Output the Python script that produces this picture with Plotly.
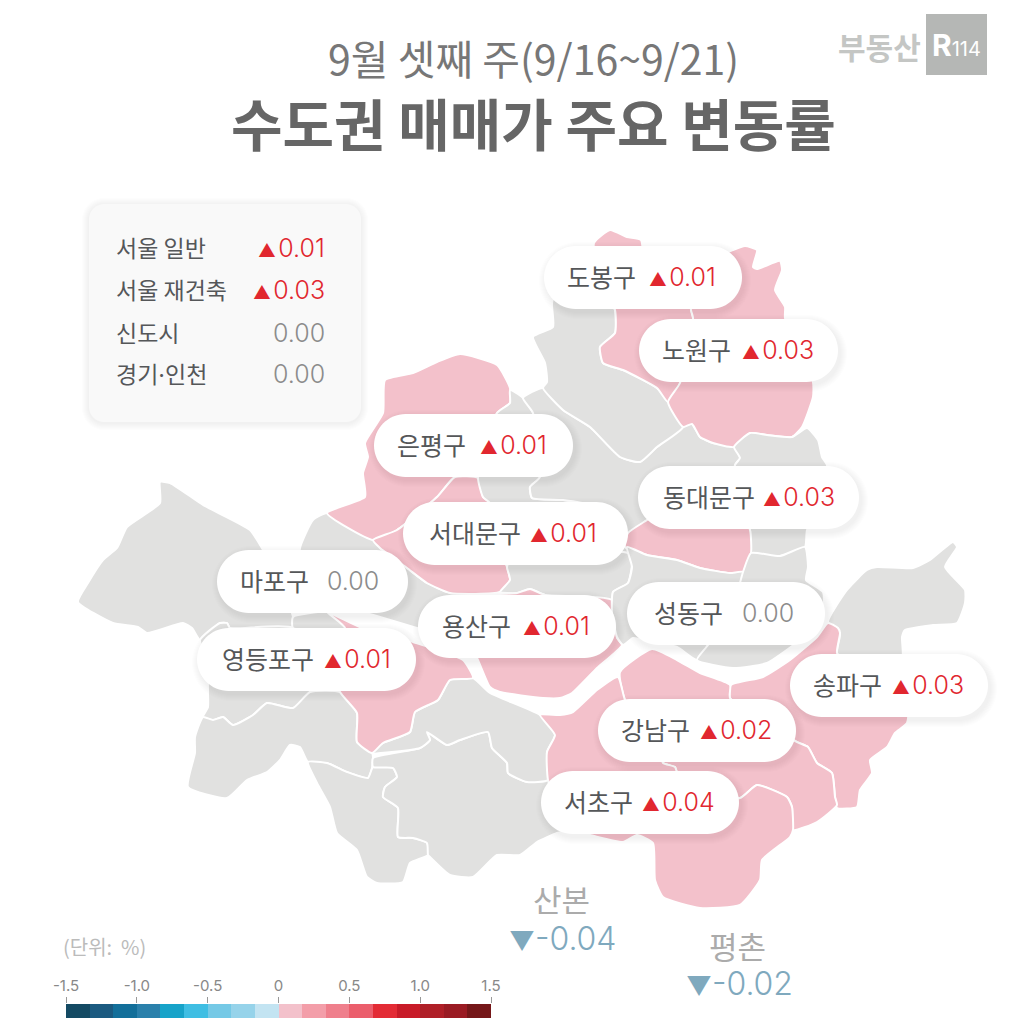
import plotly.graph_objects as go

# ---------- data ----------
SUBTITLE = "9월 셋째 주(9/16~9/21)"
TITLE = "수도권 매매가 주요 변동률"
SUMMARY_NAMES = ["서울 일반", "서울 재건축", "신도시", '경기<span style="font-family:Inter">·</span>인천']
SUMMARY_VALUES = [0.01, 0.03, 0.00, 0.00]
LABEL_NAMES = ["도봉구", "노원구", "은평구", "동대문구", "서대문구", "마포구",
               "성동구", "용산구", "영등포구", "송파구", "강남구", "서초구"]
LABEL_VALUES = [0.01, 0.03, 0.01, 0.03, 0.01, 0.00, 0.00, 0.01, 0.01, 0.03, 0.02, 0.04]
EXTRA_NAMES = ["산본", "평촌"]
EXTRA_VALUES = [-0.04, -0.02]
SCALE_TICKS = [-1.5, -1.0, -0.5, 0, 0.5, 1.0, 1.5]
SCALE_TICK_TEXT = ["-1.5", "-1.0", "-0.5", "0", "0.5", "1.0", "1.5"]
SCALE_COLORS = ["#144A63", "#1B5A80", "#136F9A", "#2A80AB", "#17A3C9", "#3FBEE3",
                "#75C9E6", "#96D3EA", "#C3E4F2", "#F3C1CB", "#F39EA9", "#EF7F8C",
                "#EB5E6C", "#E32B35", "#C81B28", "#AF1F27", "#9A1B23", "#751719"]

# district outlines, as traced on the reference map
gangseo = [(160,482),(170,483),(203,505),(250,530),(263,550),(280,580),(293,617),(293,628),(230,628),(227,623),(220,623),(200,640),(192,628),(183,623),(147,633),(138,627),(113,623),(78,602),(88,583),(103,560),(117,548),(127,527),(160,503)]
yangcheon = [(200,640),(220,623),(227,623),(230,628),(293,628),(310,692),(293,708),(267,703),(253,715),(233,725),(223,717),(213,720),(203,717),(208,707),(208,693),(207,660)]
yeouido = [(293,617),(327,612),(362,628),(293,628)]
guro = [(203,717),(213,720),(223,717),(233,725),(253,715),(267,703),(293,708),(310,692),(340,692),(357,713),(357,742),(372,753),(373,757),(372,768),(368,778),(347,772),(327,763),(308,762),(300,747),(290,745),(280,760),(267,772),(247,780),(227,798),(188,787),(195,753),(195,737)]
geumcheon = [(308,762),(327,763),(347,772),(368,778),(373,767),(393,768),(397,777),(385,787),(383,797),(398,808),(398,837),(413,838),(427,843),(428,855),(410,863),(403,882),(377,883),(367,877),(357,850),(337,833),(330,807),(317,783)]
gwanak = [(373,758),(420,748),(430,740),(427,732),(447,745),(460,740),(488,732),(492,748),(507,763),(508,773),(527,782),(548,780),(567,830),(557,833),(537,842),(520,855),(497,855),(473,877),(450,875),(430,857),(428,855),(427,843),(413,838),(398,837),(398,808),(383,797),(385,787),(397,777),(393,768),(373,767)]
dongjak = [(372,753),(383,743),(410,732),(415,712),(438,700),(450,680),(473,678),(490,693),(540,715),(555,735),(547,752),(548,780),(527,782),(508,773),(507,763),(492,748),(488,732),(460,740),(447,745),(427,732),(430,740),(420,748)]
yeongdeungpo = [(327,612),(362,628),(413,642),(463,660),(473,678),(450,680),(438,700),(415,712),(410,732),(383,743),(372,753),(357,742),(357,713),(340,692),(330,650),(345,628)]
mapo = [(327,513),(373,540),(380,548),(407,568),(427,583),(450,593),(500,592),(517,593),(465,640),(430,632),(417,628),(362,612),(300,600),(300,548),(313,520)]
eunpyeong = [(510,388),(497,365),(460,354),(437,362),(413,373),(385,380),(383,413),(365,443),(368,457),(363,473),(365,497),(327,513),(373,540),(397,530),(437,497),(455,477),(478,478),(497,413),(510,403)]
seodaemun = [(373,540),(397,530),(437,497),(455,477),(478,478),(483,497),(490,503),(500,540),(507,567),(510,580),(500,592),(450,593),(427,583),(407,568),(380,548)]
jongno = [(510,390),(522,397),(533,413),(540,477),(530,487),(532,498),(563,500),(590,505),(628,533),(628,553),(510,560),(507,567),(490,503),(483,497),(478,478),(497,413),(510,403)]
seongbuk = [(523,398),(543,388),(563,410),(590,427),(620,457),(640,462),(657,447),(683,427),(692,424),(700,437),(713,443),(734,447),(740,458),(735,465),(735,500),(660,510),(647,520),(628,533),(590,505),(563,500),(532,498),(530,487),(540,477),(533,413)]
gangbuk = [(552,303),(553,327),(533,337),(545,363),(547,382),(543,388),(563,410),(590,427),(620,457),(640,462),(657,447),(683,427),(668,402),(657,388),(623,370),(603,363),(600,347),(615,333),(615,310),(600,280),(560,280)]
dobong = [(594,243),(610,230),(627,237),(641,240),(645,260),(691,270),(691,310),(693,318),(680,383),(668,402),(657,388),(623,370),(603,363),(600,347),(615,333),(615,310),(600,280)]
nowon = [(733,250),(745,246),(757,250),(753,267),(757,269),(780,261),(782,270),(775,290),(785,307),(785,318),(813,382),(813,397),(802,427),(792,437),(767,435),(750,433),(734,447),(713,443),(700,437),(692,424),(683,427),(668,402),(680,383),(693,318),(691,310),(691,270)]
jungnang = [(734,447),(750,433),(767,435),(792,437),(807,428),(818,440),(822,457),(827,465),(820,510),(807,530),(805,547),(780,556),(751,553),(750,530),(735,500),(735,465),(740,458)]
dongdaemun = [(628,533),(647,520),(660,510),(735,500),(750,530),(751,553),(743,572),(730,573),(700,568),(677,560),(647,555),(625,547)]
jung = [(510,560),(628,553),(632,563),(628,583),(613,592),(612,600),(545,595),(530,589),(517,593),(500,592),(510,580),(507,567)]
yongsan = [(517,593),(530,589),(545,595),(612,600),(617,638),(622,645),(597,668),(572,693),(560,698),(543,698),(500,692),(490,687),(477,658),(465,640),(440,600)]
seongdong = [(627,547),(647,555),(677,560),(700,568),(730,573),(743,572),(735,600),(708,645),(697,660),(677,647),(645,640),(633,638),(623,645),(617,637),(612,613),(613,592),(628,583),(632,567)]
gwangjin = [(751,553),(780,556),(805,547),(808,567),(806,580),(823,592),(822,620),(800,640),(767,663),(733,668),(697,660),(708,645),(735,600),(743,572)]
gangdong = [(867,570),(877,567),(913,568),(930,560),(953,542),(957,547),(945,567),(965,590),(965,603),(957,623),(933,625),(905,630),(902,637),(902,660),(850,665),(837,653),(840,633),(828,622),(847,590)]
songpa = [(828,623),(838,628),(840,633),(837,653),(850,665),(907,690),(907,723),(895,733),(887,747),(870,760),(872,773),(860,790),(857,807),(837,808),(835,797),(832,773),(817,763),(808,747),(797,742),(730,698),(731,685),(763,677),(790,660),(817,637)]
gangnam = [(620,672),(652,649),(677,660),(700,673),(730,685),(730,698),(797,742),(808,747),(817,763),(832,773),(835,797),(837,805),(817,822),(793,830),(792,807),(787,797),(757,785),(740,798),(700,790),(677,772),(675,767),(663,763),(660,755),(625,700)]
seocho = [(540,715),(560,715),(573,712),(597,690),(618,677),(625,700),(660,755),(663,763),(675,767),(677,772),(700,790),(740,798),(757,785),(787,797),(792,807),(793,830),(790,837),(762,860),(760,880),(740,905),(700,908),(663,897),(655,880),(653,843),(637,835),(623,842),(590,835),(567,830),(548,780),(547,752),(555,735)]

DISTRICTS = [
    ("강서구", gangseo, None), ("양천구", yangcheon, None), ("여의도", yeouido, None),
    ("구로구", guro, None), ("금천구", geumcheon, None), ("관악구", gwanak, None),
    ("동작구", dongjak, None), ("영등포구", yeongdeungpo, 0.01), ("마포구", mapo, 0.00),
    ("은평구", eunpyeong, 0.01), ("서대문구", seodaemun, 0.01), ("종로구", jongno, None),
    ("성북구", seongbuk, None), ("강북구", gangbuk, None), ("도봉구", dobong, 0.01),
    ("노원구", nowon, 0.03), ("중랑구", jungnang, None), ("동대문구", dongdaemun, 0.03),
    ("중구", jung, None), ("용산구", yongsan, 0.01), ("성동구", seongdong, 0.00),
    ("광진구", gwangjin, None), ("강동구", gangdong, None), ("송파구", songpa, 0.03),
    ("강남구", gangnam, 0.02), ("서초구", seocho, 0.04),
]

# ---------- layout and style ----------
W, H = 1018, 1033
KR = "'Noto Sans CJK KR'"
NUM = "Inter, 'Noto Sans CJK KR'"
GRAY_FILL = "#E1E1E0"
RED = "#E1272F"
ZERO = "#8C8C8C"
BLUE = "#7FA9BE"
DARK = "#555759"
# pill: x0, x1, y0, name x, value right x
PILLS = [(544,742,246,565,718),(639,838,319,660,816),(374,573,414,395,549),
         (638,859,466,661,837),(403,628,502,427,599),(217,408,550,238,381),
         (627,825,582,652,796),(418,616,595,440,592),(197,416,628,220,393),
         (790,988,654,811,966),(598,796,699,619,774),(541,739,771,562,717)]
PILL_H = 63
SUMMARY_Y = [248, 290, 333, 374]


def round_rect(x0, y0, x1, y1, r):
    k = 0.45 * r
    return (f"M{x0+r},{y0} L{x1-r},{y0} C{x1-k},{y0} {x1},{y0+k} {x1},{y0+r} "
            f"L{x1},{y1-r} C{x1},{y1-k} {x1-k},{y1} {x1-r},{y1} "
            f"L{x0+r},{y1} C{x0+k},{y1} {x0},{y1-k} {x0},{y1-r} "
            f"L{x0},{y0+r} C{x0},{y0+k} {x0+k},{y0} {x0+r},{y0} Z")


def fill_for(v):
    if v is None or v == 0:
        return GRAY_FILL
    return SCALE_COLORS[int((v + 1.5) * 6)]


def fmt(v, gap="\u200a"):
    size = '<span style="font-size:18px">%s</span>'
    if v > 0:
        return size % "▲" + gap + f"{v:.2f}"
    return f"{v:.2f}"


fig = go.Figure()
for name, outline, value in DISTRICTS:
    xs = [p[0] for p in outline] + [outline[0][0]]
    ys = [p[1] for p in outline] + [outline[0][1]]
    fig.add_trace(go.Scatter(x=xs, y=ys, mode="lines", fill="toself", fillcolor=fill_for(value),
                             line=dict(color="#FFFFFF", width=2, shape="spline", smoothing=0.5),
                             name=name, hoverinfo="name", showlegend=False))

# colour scale
fig.add_trace(go.Bar(x=[-1.5 + (i + 0.5) / 6 for i in range(len(SCALE_COLORS))],
                     y=[1] * len(SCALE_COLORS), width=1 / 6, marker=dict(color=SCALE_COLORS, line_width=0),
                     xaxis="x2", yaxis="y2", showlegend=False, hoverinfo="x"))

shapes, ann = [], []


def card(x0, y0, x1, y1, r, fill, dx=2, dy=3):
    for i in range(7, 0, -1):
        shapes.append(dict(type="path", xref="x", yref="y", line_width=0, fillcolor="rgba(70,70,70,0.011)",
                           path=round_rect(x0 + dx - i, y0 + dy - i, x1 + dx + i, y1 + dy + i, r + i)))
    shapes.append(dict(type="path", xref="x", yref="y", line_width=0, fillcolor=fill,
                       path=round_rect(x0, y0, x1, y1, r)))


def text(x, y, s, size, color, anchor="center", family=KR, weight=None):
    font = dict(size=size, color=color, family=family)
    if weight:
        font["weight"] = weight
    ann.append(dict(x=x, y=y, xref="x", yref="y", text=s, showarrow=False, xanchor=anchor, yanchor="middle",
                    font=font, align=anchor))


card(89, 204, 361, 422, 15, "#F9F9F9", dx=0, dy=1)
for (x0, x1, y0, nx, vx), nm, v in zip(PILLS, LABEL_NAMES, LABEL_VALUES):
    card(x0, y0, x1, y0 + PILL_H, PILL_H / 2, "#FFFFFF")
    text(nx, y0 + PILL_H / 2 - 2, nm, 25, DARK, "left")
    text(vx, y0 + PILL_H / 2 - 1, fmt(v), 25, RED if v > 0 else ZERO, "right", NUM, 300)

for nm, v, y in zip(SUMMARY_NAMES, SUMMARY_VALUES, SUMMARY_Y):
    text(114, y - 1, nm, 23, DARK, "left")
    text(327, y, fmt(v), 25, RED if v > 0 else ZERO, "right", NUM, 300)

text(533, 57, SUBTITLE, 41, "#777777")
text(533, 121, f"<b>{TITLE}</b>", 56, "#666666")

# logo
shapes.append(dict(type="rect", xref="x", yref="y", x0=926, x1=987, y0=14, y1=75, line_width=0, fillcolor="#B5B7B5"))
text(879, 46, "<b>부동산</b>", 30, "#C4C6C4")
text(956, 45, '<b>R</b><span style="font-size:20px">114</span>', 30, "#FFFFFF", family=NUM)

# satellite towns
text(561, 898, EXTRA_NAMES[0], 31, "#ABABAB")
text(562, 938, f'<span style="font-size:26px">▼</span>{EXTRA_VALUES[0]:.2f}', 32, BLUE, family=NUM, weight=300)
text(737, 945, EXTRA_NAMES[1], 31, "#ABABAB")
text(739, 983, f'<span style="font-size:26px">▼</span>{EXTRA_VALUES[1]:.2f}', 32, BLUE, family=NUM, weight=300)
text(61, 946, "(단위:  %)", 20, "#BBBBBB", "left")

fig.update_layout(
    width=W, height=H, margin=dict(l=0, r=0, t=0, b=0, autoexpand=False), paper_bgcolor="#FFFFFF",
    plot_bgcolor="#FFFFFF", showlegend=False, shapes=shapes, annotations=ann, bargap=0,
    xaxis=dict(range=[0, W], visible=False, fixedrange=True, domain=[0, 1]),
    yaxis=dict(range=[H, 0], visible=False, fixedrange=True, domain=[0, 1]),
    xaxis2=dict(domain=[66 / W, 491 / W], range=[-1.5, 1.5], anchor="y2", side="top", tickmode="array",
                tickvals=SCALE_TICKS, ticktext=SCALE_TICK_TEXT, ticks="outside", ticklen=6, tickwidth=1,
                tickcolor="#999999", tickfont=dict(size=15, color="#888888", family=NUM),
                showgrid=False, zeroline=False, showline=False, fixedrange=True, automargin=False),
    yaxis2=dict(domain=[(H - 1018) / H, (H - 1004) / H], range=[0, 1], anchor="x2", visible=False, fixedrange=True),
)
fig.write_html("out.html", config=dict(displayModeBar=False),
               post_script="document.body.style.margin='0';document.body.style.overflow='hidden';")
